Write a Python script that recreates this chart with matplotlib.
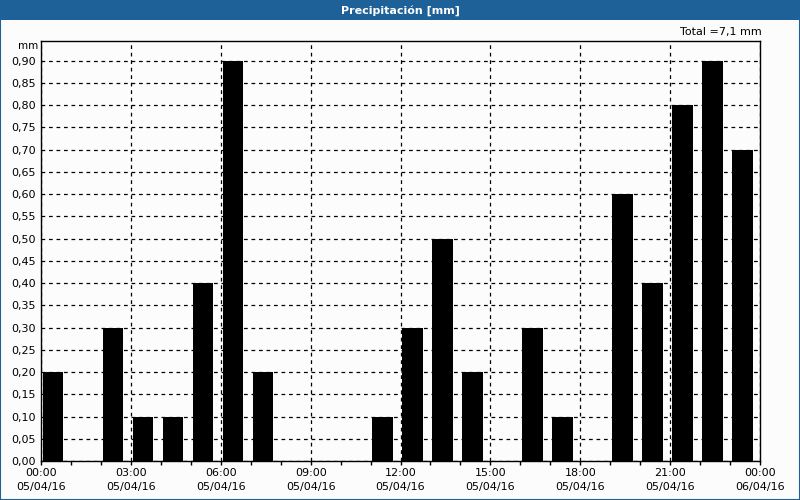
import matplotlib
matplotlib.use("Agg")
import matplotlib.pyplot as plt
from matplotlib.patches import Rectangle
from matplotlib.ticker import FixedLocator, FuncFormatter

# Data
#---------------------------
hours = list(range(24))
rain_mm = [0.2, 0.0, 0.3, 0.1, 0.1, 0.4, 0.9, 0.2,
           0.0, 0.0, 0.0, 0.1, 0.3, 0.5, 0.2, 0.0,
           0.3, 0.1, 0.0, 0.6, 0.4, 0.8, 0.9, 0.7]
major_hours = [0, 3, 6, 9, 12, 15, 18, 21, 24]
major_labels = ["00:00\n05/04/16", "03:00\n05/04/16", "06:00\n05/04/16",
                "09:00\n05/04/16", "12:00\n05/04/16", "15:00\n05/04/16",
                "18:00\n05/04/16", "21:00\n05/04/16", "00:00\n06/04/16"]
y_ticks = [i * 0.05 for i in range(19)]
title = "Precipitación [mm]"
total_text = "Total =%s mm" % ("%.1f" % sum(rain_mm)).replace(".", ",")

# Figure
#---------------------------
bg = "#fcfcfc"
blue = "#1e6198"
fig = plt.figure(figsize=(8, 5), dpi=100, facecolor=bg)

# title bar and outer border
fig.patches.append(Rectangle((0, 1 - 20 / 500), 1, 20 / 500, transform=fig.transFigure,
                             facecolor=blue, edgecolor="none", zorder=0))
fig.patches.append(Rectangle((0.0006, 0.001), 0.9988, 0.998, transform=fig.transFigure,
                             facecolor="none", edgecolor=blue, linewidth=1.5, zorder=5))
fig.text(0.5, 1 - 10.5 / 500, title, color="white", fontsize=8, fontweight="bold",
         ha="center", va="center")

ax = fig.add_axes([41 / 800, 1 - 461 / 500, (760 - 41) / 800, (461 - 40.5) / 500])
ax.set_facecolor(bg)

ax.bar([h + 0.06 for h in hours], rain_mm, width=0.69, align="edge",
       color="black", edgecolor="none", zorder=3)

ax.set_xlim(0, 24)
ax.set_ylim(0, 0.945)

ax.xaxis.set_major_locator(FixedLocator(major_hours))
ax.xaxis.set_minor_locator(FixedLocator(hours))
ax.set_xticklabels(major_labels)
ax.yaxis.set_major_locator(FixedLocator(y_ticks))
ax.yaxis.set_major_formatter(FuncFormatter(lambda v, p: ("%.2f" % v).replace(".", ",")))

ax.tick_params(axis="x", which="both", direction="out", length=3, width=1,
               labelsize=8, pad=2)
ax.tick_params(axis="y", length=0, labelsize=8, pad=4)
for lab in ax.get_xticklabels():
    lab.set_linespacing(1.45)

ax.grid(True, axis="both", which="major", color="black", linestyle=(0, (3, 3)),
        linewidth=0.9, zorder=1)
ax.set_axisbelow(True)
for s in ax.spines.values():
    s.set_color("black")
    s.set_linewidth(1)

fig.text(38 / 800, 1 - 46 / 500, "mm", fontsize=7.5, ha="right", va="center")
fig.text(762 / 800, 1 - 32 / 500, total_text, fontsize=8, ha="right", va="center")

fig.savefig("out.png", dpi=100, facecolor=bg)
